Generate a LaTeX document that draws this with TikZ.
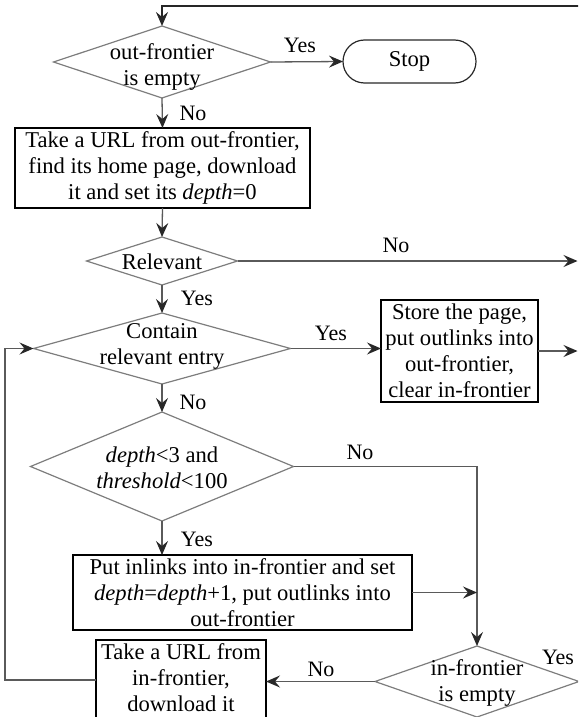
\documentclass[tikz,border=0pt]{standalone}
\usepackage{fontspec}
\setmainfont{LiberationSerif}[Extension=.ttf, UprightFont=*-Regular, ItalicFont=*-Italic, BoldFont=*-Bold, BoldItalicFont=*-BoldItalic]
\usetikzlibrary{arrows.meta,shapes.geometric,shapes.misc}
\definecolor{conncol}{RGB}{90,90,90}
\definecolor{diacol}{RGB}{125,125,125}
\definecolor{tipcol}{RGB}{40,40,40}
\begin{document}
\begin{tikzpicture}[x=1pt,y=-1pt,
  every node/.style={font=\fontsize{22.6}{26}\selectfont, text=black},
  dia/.style={draw=diacol, line width=1.2pt, diamond, inner sep=0pt, outer sep=0pt},
  box/.style={draw=black, line width=1.5pt, inner sep=0pt, outer sep=0pt, align=center},
  txt/.style={align=center, inner sep=0pt},
  lab/.style={inner sep=0pt, font=\fontsize{22}{26}\selectfont},
  conn/.style={draw=conncol, line width=1.3pt, -{Stealth[length=14pt,width=12pt,inset=5pt,color=tipcol]}}]
\useasboundingbox (0,0) rectangle (578,717);
\clip (0,0) rectangle (578,717);
% decisions and boxes
\node[dia, minimum width=217pt, minimum height=72pt] (d1) at (162,62) {};
\node[txt] (t1) at (162,66.5) {out-frontier\\is empty};
\node[draw=tipcol, line width=1.2pt, rounded rectangle, minimum width=133pt, minimum height=43pt, inner sep=0pt, outer sep=0pt] (stop) at (409.5,61.5) {Stop};
\node[box, minimum width=295pt, minimum height=80pt] (b1) at (162.5,168) {Take a URL from out-frontier,\\find its home page, download\\it and set its \textit{depth}=0};
\node[dia, minimum width=151pt, minimum height=48pt] (d2) at (162,261) {};
\node[txt] (t2) at (162,261.5) {Relevant};
\node[dia, minimum width=257pt, minimum height=71pt] (d3) at (162,348.5) {};
\node[txt] (t3) at (162,346) {Contain\\relevant entry};
\node[box, minimum width=157pt, minimum height=102pt] (b2) at (459.5,351) {Store the page,\\put outlinks into\\out-frontier,\\clear in-frontier};
\node[dia, minimum width=263pt, minimum height=109pt] (d4) at (162,466.5) {};
\node[txt] (t4) at (162,468) {\textit{depth}<3 and\\\textit{threshold}<100};
\node[box, minimum width=339pt, minimum height=75pt] (b3) at (242.5,592.5) {Put inlinks into in-frontier and set\\\textit{depth}=\textit{depth}+1, put outlinks into\\out-frontier};
\node[box, minimum width=170pt, minimum height=80pt] (b4) at (181,680) {};
\node[txt] (t6) at (181,678) {Take a URL from\\in-frontier,\\download it};
\node[dia, minimum width=204pt, minimum height=71pt] (d5) at (477,681.5) {};
\node[txt] (t5) at (477,682.5) {in-frontier\\is empty};
% helper coordinates
\coordinate (tr) at (580,6);
\coordinate (r2) at (577.5,261);
\coordinate (redge) at (577.5,0);
\coordinate (lp) at (5,0);
% connectors
\draw[conn, draw=black!85, line width=2.4pt] (tr) -| (d1.north);
\draw[conn] (d1.east) -- (stop.west);
\draw[conn] (d1.south) -- (b1.north);
\draw[conn] (b1.south) -- (d2.north);
\draw[conn] (d2.east) -- (r2);
\draw[conn] (d2.south) -- (d3.north);
\draw[conn] (d3.east) -- (d3.east -| b2.west);
\draw[conn] (b2.east) -- (b2.east -| redge);
\draw[conn] (d3.south) -- (d4.north);
\draw[conn] (d4.south) -- (d4.south |- b3.north);
\draw[conn] (d4.east) -| (d5.north);
\draw[conn] (b3.east) -- (b3.east -| d5.north);
\draw[conn] (d5.west) -- (d5.west -| b4.east);
\draw[conn] (b4.west) -- (b4.west -| lp) |- (d3.west);
% labels
\node[lab] (l1) at (300,45) {Yes};
\node[lab] (l2) at (193,113) {No};
\node[lab] (l3) at (396,245) {No};
\node[lab] (l4) at (197,298) {Yes};
\node[lab] (l5) at (331,333) {Yes};
\node[lab] (l6) at (193,402) {No};
\node[lab] (l7) at (360,452) {No};
\node[lab] (l8) at (197,539) {Yes};
\node[lab] (l9) at (558,657) {Yes};
\node[lab] (l10) at (321,669) {No};
\end{tikzpicture}
\end{document}
